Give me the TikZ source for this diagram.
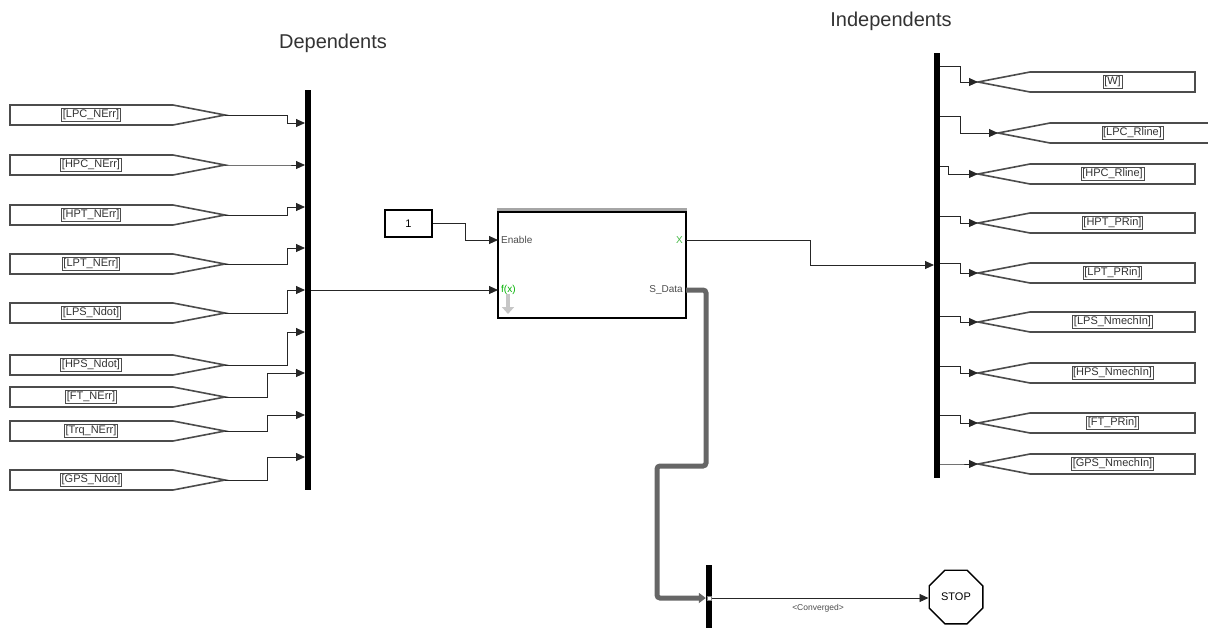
\documentclass[tikz,border=0pt]{standalone}
\usepackage{fontspec}
\setmainfont{Liberation Sans}
\usetikzlibrary{arrows.meta,shapes.geometric}

\begin{document}
\begin{tikzpicture}[x=1pt, y=-1pt, >={Triangle[length=9pt,width=8pt]},
	sig/.style={draw=black!85, line width=0.9pt},
	tag/.style={draw=black!70, line width=1.6pt, fill=white},
	taglbl/.style={draw=black!70, line width=0.7pt, inner sep=1.2pt, text=black!80, font=\fontsize{11}{12}\selectfont},
	bus/.style={fill=black, draw=none, minimum width=6pt, inner sep=0pt},
	head/.style={text=black!80, font=\fontsize{20}{22}\selectfont},
	port/.style={inner sep=1pt, text=black!70, font=\fontsize{10}{11}\selectfont}]
	\useasboundingbox (0,0) rectangle (1208,630);
	\node[head] (dep) at (333,43) {Dependents};
	\node[head] (indep) at (891,21) {Independents};
	% dependents side
	\node[bus, minimum height=400pt] (busL) at (308,290) {};
	\foreach \nm/\yt/\yi/\xs [count=\i] in {LPC\_NErr/115/123/287, HPC\_NErr/165/165/287, HPT\_NErr/215/207/287, LPT\_NErr/264/248/287, LPS\_Ndot/313/290/287, HPS\_Ndot/365/332/287, FT\_NErr/397/373/267, Trq\_NErr/431/415/267, GPS\_Ndot/480/457/267} {
		\draw[tag] (10,\yt-10) -- (173,\yt-10) -- (225,\yt) -- (173,\yt+10) -- (10,\yt+10) -- cycle;
		\node[taglbl] (dtag\i) at (91,\yt) {[\nm]};
		\coordinate (dtip\i) at (225,\yt);
		\coordinate (dstep\i) at (\xs,\yi);
		\coordinate (din\i) at (305,\yi);
		\draw[sig,->] (dtip\i) -| (dstep\i) -- (din\i);
	}
	% solver block
	\node[draw, line width=1.4pt, minimum width=188pt, minimum height=106pt, inner sep=0pt] (solver) at (592,265) {};
	\draw[gray!70, line width=3pt] ([yshift=1.5pt]solver.north west) -- ([yshift=1.5pt]solver.north east);
	\node[port, anchor=west] (en) at (500,240) {Enable};
	\node[port, anchor=west, text=green!70!black] (fx) at (500,290) {f(x)};
	\node[port, anchor=east, text=green!45!gray] (xo) at (684,240) {X};
	\node[port, anchor=east] (sd) at (684,290) {S\_Data};
	\draw[gray!45, line width=4pt, -{Triangle[length=7pt,width=12pt]}] (508,294) -- (508,314);
	\coordinate (enIn) at (498,240);
	\coordinate (fxIn) at (498,290);
	\coordinate (xOut) at (686,240);
	\coordinate (sdOut) at (686,290);
	\node[draw, line width=1.4pt, minimum width=47pt, minimum height=27pt, inner sep=0pt, font=\fontsize{11}{12}\selectfont] (one) at (408.5,223.5) {1};
	\draw[sig,->] (one.east) -| (465,240) -- (enIn);
	\draw[sig,->] (busL.east |- fxIn) -- (fxIn);
	% independents side
	\node[bus, minimum height=425pt] (busR) at (937,265.5) {};
	\coordinate (busRin) at (934,265);
	\draw[sig,->] (xOut) -| (810,265) -- (busRin);
	\foreach \nm/\yo/\yt/\xs/\xt [count=\i] in {W/66/82/960/978, LPC\_Rline/116/133/960/998, HPC\_Rline/166/174/948/978, HPT\_PRin/216/223/960/978, LPT\_PRin/263/273/960/978, LPS\_NmechIn/316/322/960/978, HPS\_NmechIn/366/373/960/978, FT\_PRin/415/423/960/978, GPS\_NmechIn/464/464/960/978} {
		\draw[tag] (\xt,\yt) -- (\xt+52,\yt-10) -- (\xt+217,\yt-10) -- (\xt+217,\yt+10) -- (\xt+52,\yt+10) -- cycle;
		\node[taglbl] (itag\i) at (\xt+134.5,\yt) {[\nm]};
		\coordinate (iout\i) at (940,\yo);
		\coordinate (istep\i) at (\xs,\yt);
		\coordinate (itip\i) at (\xt,\yt);
		\draw[sig,->] (iout\i) -| (istep\i) -- (itip\i);
	}
	% stop condition
	\node[bus, minimum height=63pt] (sel) at (709,596.5) {};
	\node[fill=white, draw=gray, line width=0.5pt, inner sep=0pt, minimum size=4pt] (selport) at (709,598) {};
	\draw[black!60, line width=5pt, rounded corners=3pt, -{Triangle[length=7pt,width=10pt]}] (sdOut) -- (706,290) -- (706,466) -- (657,466) -- (657,598) -- (sel.west |- selport);
	\node[draw, line width=1.4pt, regular polygon, regular polygon sides=8, minimum size=58pt, inner sep=0pt, font=\fontsize{11}{12}\selectfont] (stop) at (956,597) {STOP};
	\draw[sig,->] (sel.east |- selport) -- (stop.west |- selport);
	\node[port, font=\fontsize{8.5}{9}\selectfont] (conv) at (818,608) {<Converged>};
\end{tikzpicture}
\end{document}
